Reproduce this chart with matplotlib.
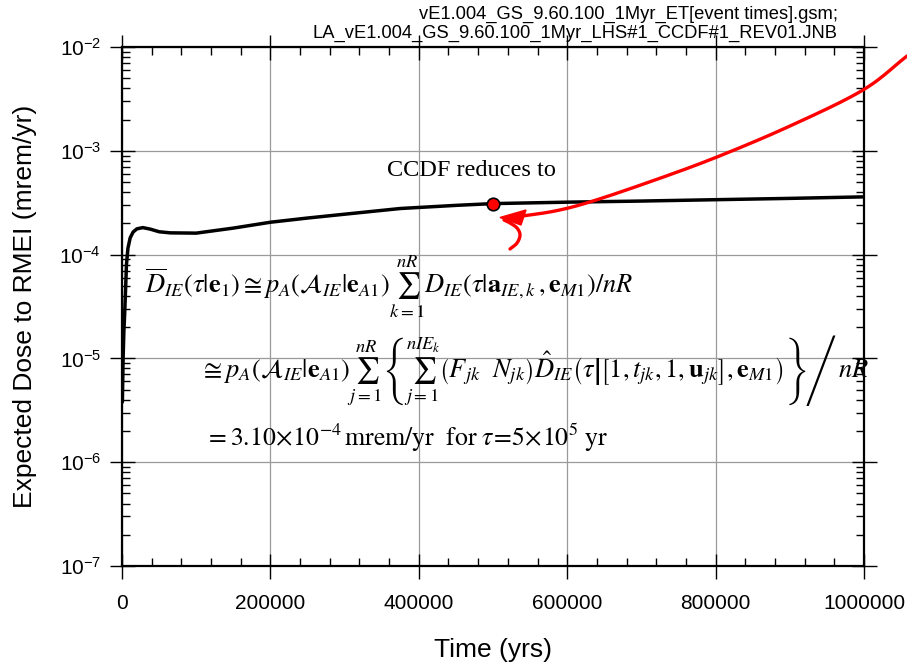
import numpy as np
import matplotlib
matplotlib.use("Agg")
import matplotlib.pyplot as plt
from matplotlib.ticker import FixedLocator, FuncFormatter, NullFormatter
from matplotlib.transforms import Affine2D
from matplotlib.patches import Polygon

plt.rcParams['font.family'] = ['Liberation Sans', 'DejaVu Sans']
plt.rcParams['mathtext.fontset'] = 'stix'

# Expected dose history (years, mrem/yr)
time_yr = [500, 1500, 2500, 3600, 5000, 6000, 8000, 11000, 15000, 20000, 28000,
           38000, 50000, 65000, 100000, 150000, 200000, 250000, 300000, 375000,
           450000, 500000, 600000, 700000, 800000, 900000, 1000000]
dose = [3.8e-6, 1.0e-5, 1.8e-5, 2.7e-5, 5.0e-5, 8.0e-5, 1.15e-4, 1.45e-4, 1.65e-4,
        1.77e-4, 1.82e-4, 1.76e-4, 1.66e-4, 1.62e-4, 1.61e-4, 1.80e-4, 2.05e-4,
        2.25e-4, 2.45e-4, 2.78e-4, 2.98e-4, 3.10e-4, 3.20e-4, 3.28e-4, 3.38e-4,
        3.48e-4, 3.60e-4]

# Highlighted value at tau = 5e5 yr
tau_point = 500000
dose_point = 3.10e-4

x_ticks = [0, 200000, 400000, 600000, 800000, 1000000]
y_decades = [-7, -6, -5, -4, -3, -2]

title_lines = ["vE1.004_GS_9.60.100_1Myr_ET[event times].gsm;",
               "LA_vE1.004_GS_9.60.100_1Myr_LHS#1_CCDF#1_REV01.JNB"]

W, H = 907, 664
fig = plt.figure(figsize=(W / 100, H / 100), dpi=100)
ax = fig.add_axes([122 / W, 1 - 566 / H, (864 - 122) / W, (566 - 47) / H])

ax.plot(time_yr, dose, color='black', lw=2.5, solid_capstyle='round', zorder=3)
ax.plot([tau_point], [dose_point], 'o', ms=9, mfc='red', mec='black', mew=1.2, zorder=5)

ax.set_yscale('log')
ax.set_xlim(x_ticks[0], x_ticks[-1])
ax.set_ylim(10.0 ** y_decades[0], 10.0 ** y_decades[-1])

ax.xaxis.set_major_locator(FixedLocator(x_ticks))
ax.xaxis.set_major_formatter(FuncFormatter(lambda v, p: '%d' % v))
x_minor = np.arange(x_ticks[0], x_ticks[-1] + 1, 40000)
ax.xaxis.set_minor_locator(FixedLocator([v for v in x_minor if v % 200000 != 0]))

ax.yaxis.set_major_locator(FixedLocator([10.0 ** d for d in y_decades]))
ax.yaxis.set_major_formatter(FuncFormatter(
    lambda v, p: r'$\mathregular{10^{%d}}$' % int(round(np.log10(v)))))
y_minor = [m * 10.0 ** d for d in y_decades[:-1] for m in range(2, 10)]
ax.yaxis.set_minor_locator(FixedLocator(y_minor))
ax.yaxis.set_minor_formatter(NullFormatter())

ax.grid(True, which='major', color='#9a9a9a', lw=0.9)
ax.set_axisbelow(True)
for s in ax.spines.values():
    s.set_linewidth(1.6)

ax.tick_params(which='major', direction='inout', length=18, width=1.0,
               labelsize=15, top=True, right=True)
ax.tick_params(axis='x', which='major', pad=11)
ax.tick_params(axis='y', which='major', pad=6)
ax.tick_params(which='minor', direction='in', length=6, width=1.0,
               bottom=True, left=True, top=True, right=True)

ax.set_xlabel('Time (yrs)', fontsize=19, labelpad=18)
ax.set_ylabel('Expected Dose to RMEI (mrem/yr)', fontsize=19, labelpad=16)

px = Affine2D().scale(1 / W, -1 / H).translate(0, 1) + fig.transFigure

for i, line in enumerate(title_lines):
    fig.text(838 / W, 1 - (14 + 19 * i) / H, line, ha='right', va='center', fontsize=13.2)

fig.text(471, 170, 'CCDF reduces to', transform=px, ha='center', va='center',
         fontsize=17.5, family=['Liberation Serif', 'DejaVu Serif'])

eq1 = (r'$\overline{D}_{IE}\left(\tau|\mathbf{e}_1\right)\cong p_A\left(\mathcal{A}_{IE}|\mathbf{e}_{A1}\right)'
       r'\sum_{k=1}^{nR}D_{IE}\left(\tau|\mathbf{a}_{IE,k}\,,\mathbf{e}_{M1}\right)/nR$')
eq2 = (r'$\cong p_A\left(\mathcal{A}_{IE}|\mathbf{e}_{A1}\right)\sum_{j=1}^{nR}'
       r'\left.\left\{\sum_{j=1}^{nIE_k}'
       r'\left(F_{jk}\ \ N_{jk}\right)\hat{D}_{IE}\left(\tau\left|\left[1,t_{jk},1,\mathbf{u}_{jk}\right]\right.,'
       r'\mathbf{e}_{M1}\right)\right\}\!\right/\,nR$')
eq3 = (r'$=3.10\!\times\!10^{-4}\,\mathrm{mrem/yr}\ \ \mathrm{for}\ \tau\!=\!5\!\times\!10^{5}'
       r'\ \mathrm{yr}$')

fig.text(145, 287, eq1, transform=px, ha='left', va='center', fontsize=19)
fig.text(200, 370, eq2, transform=px, ha='left', va='center', fontsize=19)
fig.text(205, 438, eq3, transform=px, ha='left', va='center', fontsize=18.5)


def smooth_path(xs, ys, n=20):
    """Catmull-Rom spline through the given guide points."""
    p = np.column_stack([xs, ys]).astype(float)
    p = np.vstack([2 * p[0] - p[1], p, 2 * p[-1] - p[-2]])
    out = []
    for i in range(1, len(p) - 2):
        p0, p1, p2, p3 = p[i - 1], p[i], p[i + 1], p[i + 2]
        for t in np.linspace(0, 1, n, endpoint=False):
            out.append(0.5 * ((2 * p1) + (-p0 + p2) * t
                              + (2 * p0 - 5 * p1 + 4 * p2 - p3) * t ** 2
                              + (-p0 + 3 * p1 - 3 * p2 + p3) * t ** 3))
    out.append(p[-2])
    out = np.array(out)
    return out[:, 0], out[:, 1]


# Red pointer arrow sweeping in from the upper right
arrow_x = [907, 863, 790, 717, 655, 593, 555, 515]
arrow_y = [56, 90, 126, 157, 180, 201, 211, 217]
sx, sy = smooth_path(arrow_x, arrow_y)
fig.add_artist(plt.Line2D(sx, sy, transform=px, color='red', lw=2.4,
                          solid_capstyle='round'))
hook_x = [510, 517, 520, 517, 510, 504]
hook_y = [249, 243, 235, 228, 223, 220]
hx, hy = smooth_path(hook_x, hook_y)
fig.add_artist(plt.Line2D(hx, hy, transform=px, color='red', lw=2.4,
                          solid_capstyle='round'))
head = Polygon([[500, 217.5], [526, 210], [521, 225]], closed=True, transform=px,
               facecolor='red', edgecolor='red')
fig.add_artist(head)

fig.savefig('out.png', dpi=100)
